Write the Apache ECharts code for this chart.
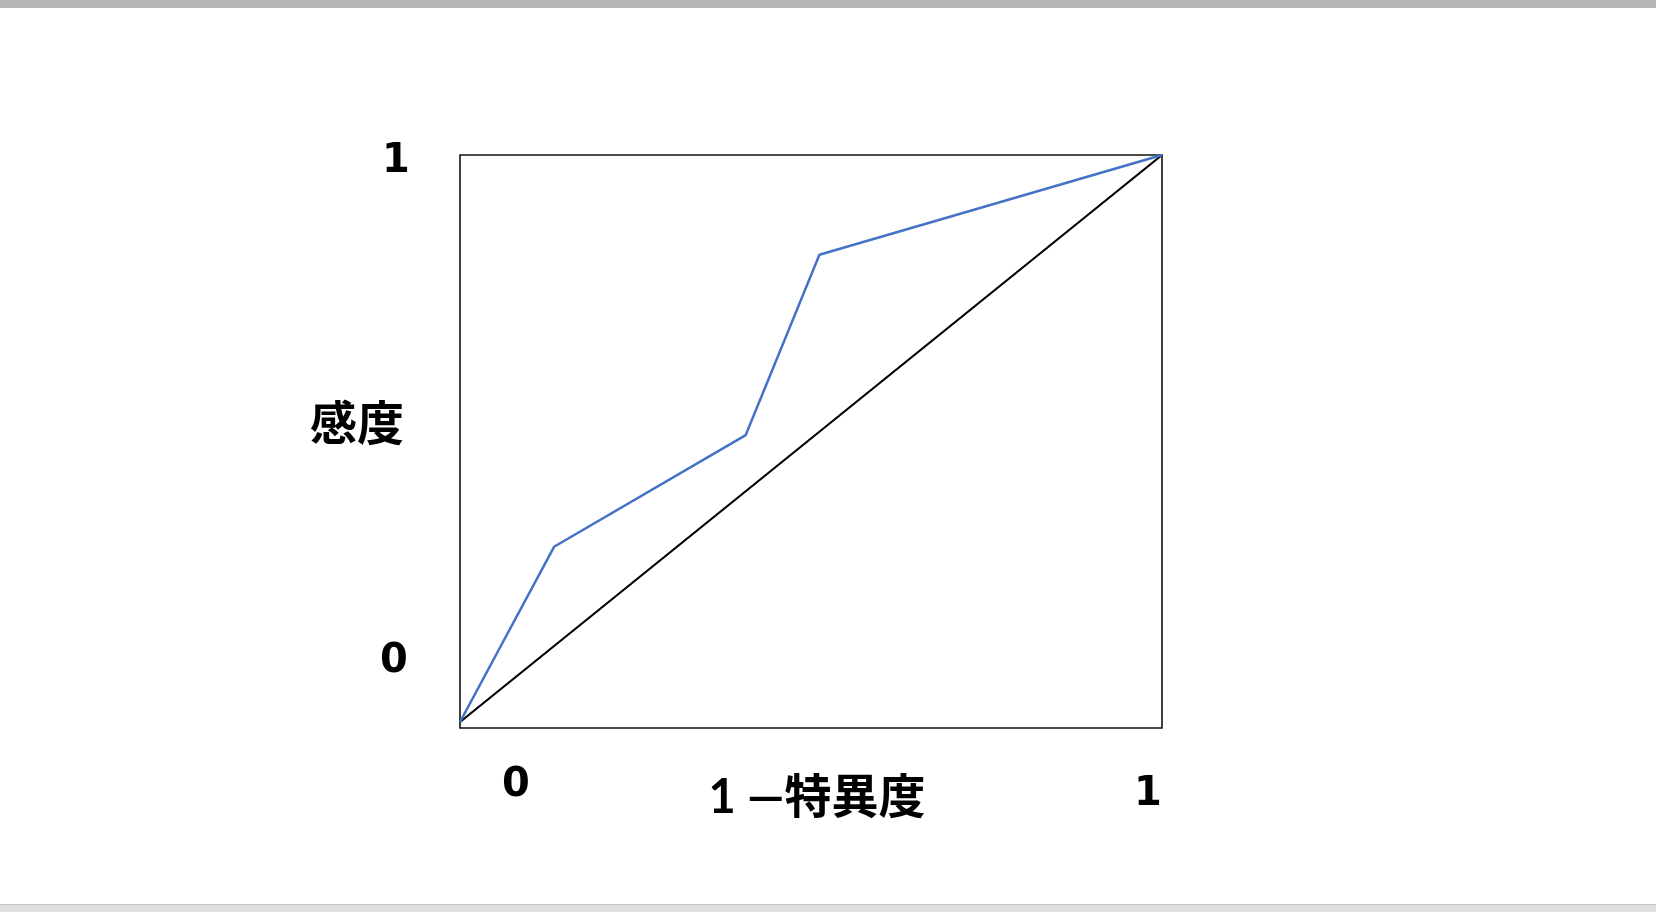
<!DOCTYPE html>
<html>
<head>
<meta charset="utf-8">
<script src="https://cdn.jsdelivr.net/npm/echarts@6/dist/echarts.min.js"></script>
<style>
  html, body { margin: 0; padding: 0; background: #fff; }
  #chart { width: 1656px; height: 912px; }
</style>
</head>
<body>
<div id="chart"></div>
<script>
// ROC curve: 1 - specificity (x) against sensitivity (y)
const rocFpr = [0, 0.134, 0.407, 0.512, 1];
const rocTpr = [0, 0.309, 0.506, 0.824, 1];
const chanceFpr = [0, 1];
const chanceTpr = [0, 1];

const xTickLabels = ['0', '1'];
const yTickLabels = ['0', '1'];
const xAxisTitle = '1 —特異度';
const yAxisTitle = '感度';

const toPairs = (xs, ys) => xs.map((x, i) => [x, ys[i]]);

const chart = echarts.init(document.getElementById('chart'), null, { renderer: 'canvas' });

const digitFont = { fontFamily: "'DejaVu Sans', sans-serif", fontWeight: 'bold', fontSize: 40, fill: '#000' };
const titleFont = { fontFamily: "Lato, 'Noto Sans CJK JP', sans-serif", fontWeight: 'bold', fontSize: 47, fill: '#000' };

function label(text, x, y, font) {
  return {
    type: 'text', x: x, y: y, z: 10,
    style: Object.assign({ text: text, align: 'center', verticalAlign: 'middle' }, font)
  };
}

chart.setOption({
  animation: false,
  backgroundColor: '#fff',
  grid: {
    left: 460, top: 155, width: 702, height: 573,
    show: true, borderColor: '#111', borderWidth: 1.6, backgroundColor: 'transparent'
  },
  xAxis: {
    type: 'value', min: 0, max: 1,
    axisLine: { show: false }, axisTick: { show: false },
    axisLabel: { show: false }, splitLine: { show: false }
  },
  yAxis: {
    type: 'value', min: -0.0106, max: 1,
    axisLine: { show: false }, axisTick: { show: false },
    axisLabel: { show: false }, splitLine: { show: false }
  },
  series: [
    {
      type: 'line', data: toPairs(chanceFpr, chanceTpr),
      showSymbol: false, lineStyle: { color: '#000', width: 2.2 }, z: 2
    },
    {
      type: 'line', data: toPairs(rocFpr, rocTpr),
      showSymbol: false, lineStyle: { color: '#4472C4', width: 2.5 }, z: 3
    }
  ],
  graphic: [
    { type: 'rect', shape: { x: 0, y: 0, width: 1656, height: 8 }, style: { fill: '#b5b5b5' } },
    { type: 'rect', shape: { x: 0, y: 904, width: 1656, height: 8 }, style: { fill: '#dedfde' } },
    { type: 'rect', shape: { x: 0, y: 904, width: 1656, height: 1 }, style: { fill: '#c4c4c4' } },
    label(yTickLabels[1], 396, 162, digitFont),
    label(yTickLabels[0], 394, 662, digitFont),
    label(xTickLabels[0], 516, 786, digitFont),
    label(xTickLabels[1], 1148, 795, digitFont),
    label(xAxisTitle, 817, 798, titleFont),
    label(yAxisTitle, 357, 425, titleFont)
  ]
});
</script>
</body>
</html>
